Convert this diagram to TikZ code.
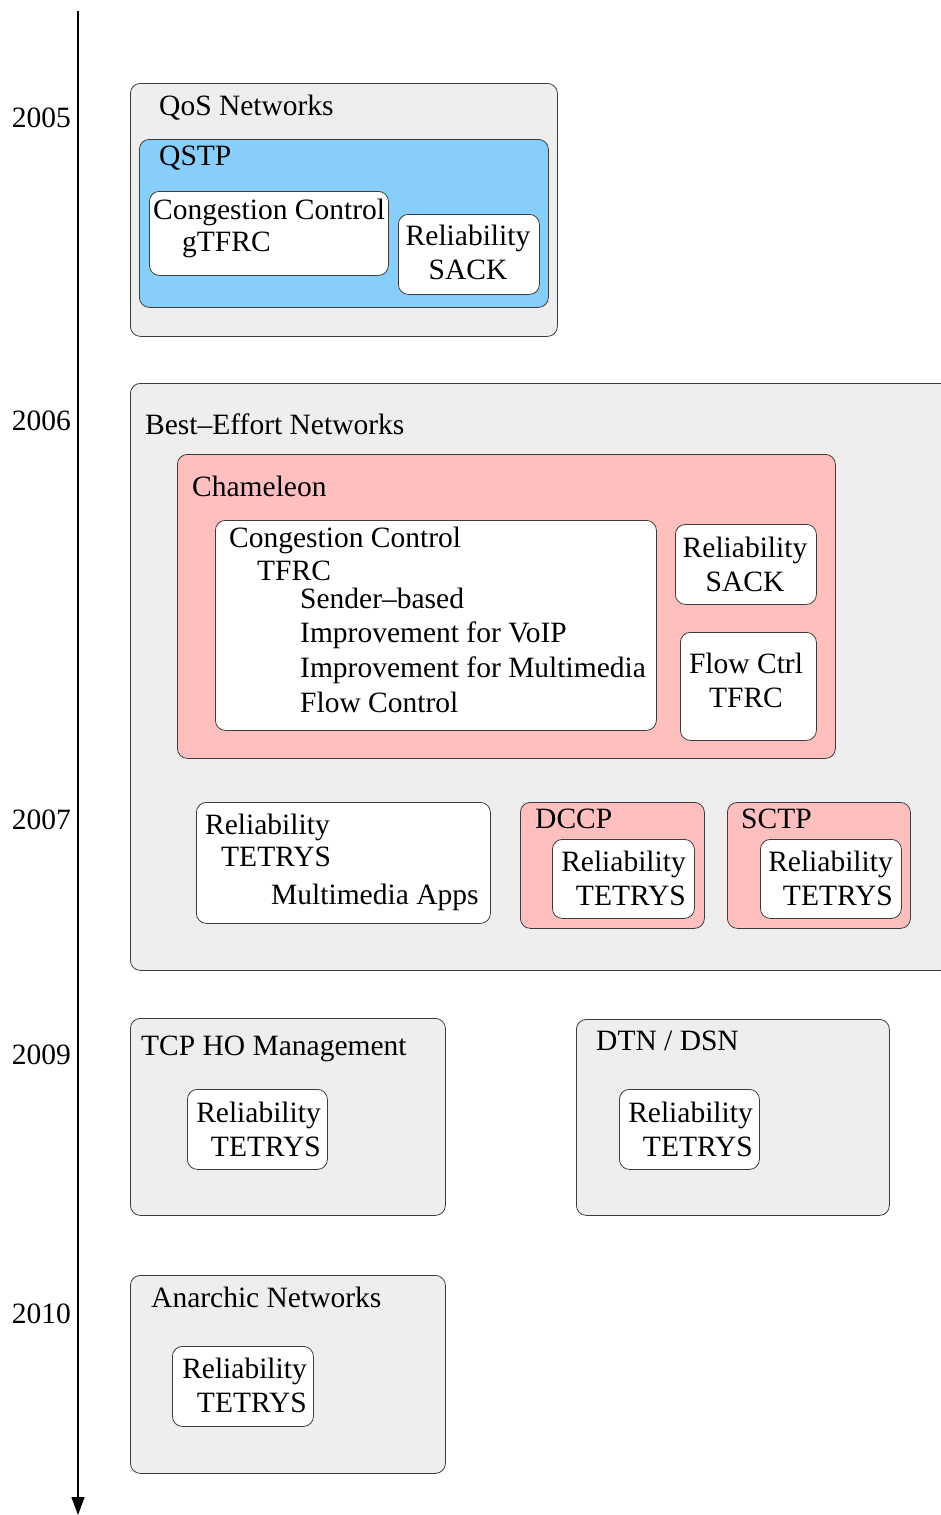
\documentclass[tikz,border=0pt]{standalone}
\usepackage{fontspec}
\setmainfont{Liberation Serif}
\usetikzlibrary{arrows.meta}
\definecolor{areagray}{RGB}{238,238,238}
\definecolor{qstpblue}{RGB}{135,206,250}
\definecolor{protopink}{RGB}{255,191,191}
\definecolor{edgegray}{RGB}{60,60,60}

\begin{document}
\begin{tikzpicture}[x=1pt, y=-1pt,
	font=\fontsize{29.5}{33.5}\selectfont,
	area/.style={draw=edgegray, line width=0.8pt, rounded corners=10pt, fill=areagray, anchor=north west, inner sep=0pt},
	proto/.style={area, fill=protopink},
	qos/.style={area, fill=qstpblue},
	feat/.style={area, fill=white},
	year/.style={anchor=base east, inner sep=0pt},
	title/.style={anchor=base west, inner sep=0pt},
	lines/.style={anchor=north west, align=left, inner sep=0pt},
	clines/.style={anchor=north, align=center, inner sep=0pt},
	rlines/.style={anchor=north east, align=right, inner sep=0pt}]
	\useasboundingbox (0,0) rectangle (940,1515);
	% Timeline
	\coordinate (axistop) at (78,11);
	\coordinate (axisend) at (78,1515);
	\draw[line width=1.3pt, -{Triangle[width=13pt,length=18pt]}] (axistop) -- (axisend);
	\node[year] (y2005) at (71,127) {2005};
	\node[year] (y2006) at (71,430) {2006};
	\node[year] (y2007) at (71,829) {2007};
	\node[year] (y2009) at (71,1064) {2009};
	\node[year] (y2010) at (71,1323) {2010};
	% QoS networks
	\node[area, minimum width=427pt, minimum height=253pt] (qosnet) at (130,83) {};
	\node[qos, minimum width=409pt, minimum height=168pt] (qstp) at (139,139) {};
	\node[feat, minimum width=239pt, minimum height=84pt] (qstpcc) at (149,191) {};
	\node[feat, minimum width=141pt, minimum height=80pt] (qstprel) at (398,214) {};
	\node[title] (qosnetname) at (159,115) {QoS Networks};
	\node[title] (qstpname) at (159,165) {QSTP};
	\node[lines] (qstpcctext) at (153,199) {Congestion Control\\[-1.5pt]\hspace*{29pt}gTFRC};
	\node[clines] (qstpreltext) at (468,225) {Reliability\\SACK};
	% Best-effort networks
	\node[area, minimum width=820pt, minimum height=587pt] (besteffort) at (130,383) {};
	\node[title] (besteffortname) at (145,434) {Best--Effort Networks};
	\node[proto, minimum width=658pt, minimum height=304pt] (cham) at (177,454) {};
	\node[title] (chamname) at (192,496) {Chameleon};
	\node[feat, minimum width=441pt, minimum height=210pt] (chamcc) at (215,520) {};
	\node[lines] (chamcctext) at (229,527) {Congestion Control\\[-0.5pt]
		\hspace*{28pt}TFRC\\[-5.5pt]
		\hspace*{71pt}Sender--based\\[0.5pt]
		\hspace*{71pt}Improvement for VoIP\\[1.5pt]
		\hspace*{71pt}Improvement for Multimedia\\[1.5pt]
		\hspace*{71pt}Flow Control};
	\node[feat, minimum width=141pt, minimum height=80pt] (chamrel) at (675,524) {};
	\node[clines] (chamreltext) at (745,537) {Reliability\\SACK};
	\node[feat, minimum width=136pt, minimum height=108pt] (chamflow) at (680,632) {};
	\node[clines] (chamflowtext) at (746,653) {Flow Ctrl\\TFRC};
	\node[feat, minimum width=294pt, minimum height=121pt] (mmrel) at (196,802) {};
	\node[lines] (mmreltext) at (205,814) {Reliability\\[-1.5pt]
		\hspace*{16pt}TETRYS\\[4.5pt]
		\hspace*{66pt}Multimedia Apps};
	\node[proto, minimum width=184pt, minimum height=126pt] (dccp) at (520,802) {};
	\node[title] (dccpname) at (535,828) {DCCP};
	\node[feat, minimum width=142pt, minimum height=79pt] (dccprel) at (552,839) {};
	\node[rlines] (dccpreltext) at (686,851) {Reliability\\TETRYS};
	\node[proto, minimum width=183pt, minimum height=126pt] (sctp) at (727,802) {};
	\node[title] (sctpname) at (741,828) {SCTP};
	\node[feat, minimum width=141pt, minimum height=79pt] (sctprel) at (760,839) {};
	\node[rlines] (sctpreltext) at (893,851) {Reliability\\TETRYS};
	% TCP HO and DTN
	\node[area, minimum width=315pt, minimum height=197pt] (tcpho) at (130,1018) {};
	\node[title] (tcphoname) at (141,1055) {TCP HO Management};
	\node[feat, minimum width=140pt, minimum height=80pt] (tcphorel) at (187,1089) {};
	\node[rlines] (tcphoreltext) at (321,1102) {Reliability\\TETRYS};
	\node[area, minimum width=313pt, minimum height=196pt] (dtn) at (576,1019) {};
	\node[title] (dtnname) at (596,1050) {DTN / DSN};
	\node[feat, minimum width=140pt, minimum height=80pt] (dtnrel) at (619,1089) {};
	\node[rlines] (dtnreltext) at (753,1102) {Reliability\\TETRYS};
	% Anarchic networks
	\node[area, minimum width=315pt, minimum height=198pt] (anarchic) at (130,1275) {};
	\node[title] (anarchicname) at (151,1307) {Anarchic Networks};
	\node[feat, minimum width=141pt, minimum height=80pt] (anarchicrel) at (172,1346) {};
	\node[rlines] (anarchicreltext) at (307,1358) {Reliability\\TETRYS};
\end{tikzpicture}
\end{document}
